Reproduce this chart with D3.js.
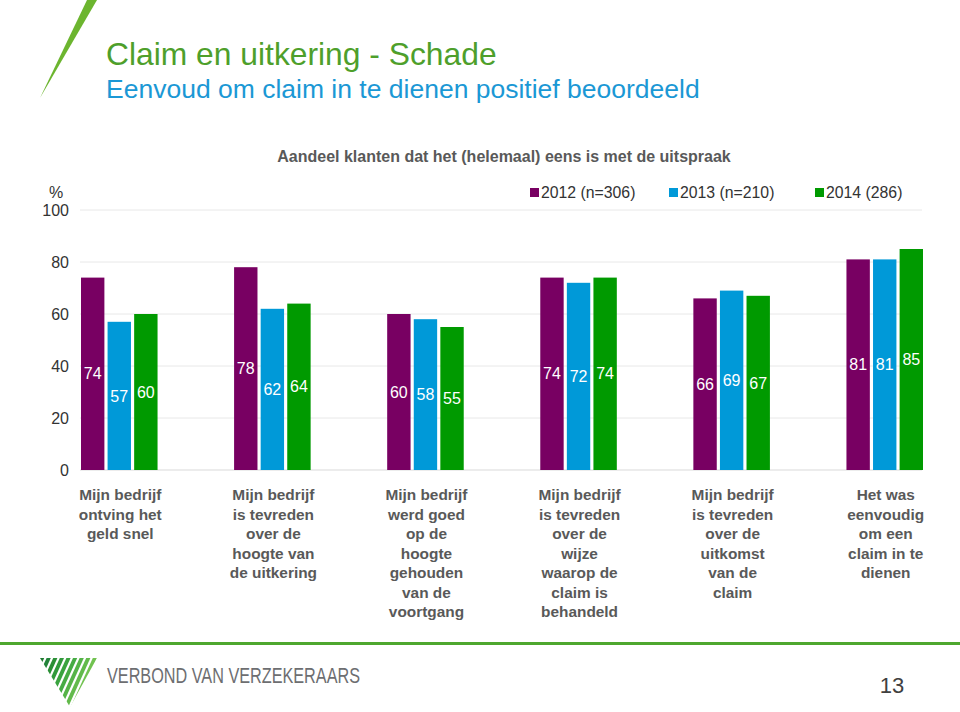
<!DOCTYPE html>
<html>
<head>
<meta charset="utf-8">
<script src="https://cdn.jsdelivr.net/npm/d3@7"></script>
<style>
  html, body { margin: 0; padding: 0; background: #fff; }
  svg { display: block; }
  text { font-family: "Liberation Sans", Arial, sans-serif; }
</style>
</head>
<body>
<svg id="chart" width="960" height="712"></svg>
<script>
// ---- data ----
const categories = [
  ["Mijn bedrijf", "ontving het", "geld snel"],
  ["Mijn bedrijf", "is tevreden", "over de", "hoogte van", "de uitkering"],
  ["Mijn bedrijf", "werd goed", "op de", "hoogte", "gehouden", "van de", "voortgang"],
  ["Mijn bedrijf", "is tevreden", "over de", "wijze", "waarop de", "claim is", "behandeld"],
  ["Mijn bedrijf", "is tevreden", "over de", "uitkomst", "van de", "claim"],
  ["Het was", "eenvoudig", "om een", "claim in te", "dienen"]
];
const seriesNames = ["2012 (n=306)", "2013 (n=210)", "2014 (286)"];
const values2012 = [74, 78, 60, 74, 66, 81];
const values2013 = [57, 62, 58, 72, 69, 81];
const values2014 = [60, 64, 55, 74, 67, 85];
const yTicks = [0, 20, 40, 60, 80, 100];
const colors = ["#780062", "#0099d8", "#009a00"];

const seriesValues = [values2012, values2013, values2014];
const svg = d3.select("#chart");

// ---- header decorations ----
svg.append("polygon")
  .attr("points", "40,98 87,0 97,0")
  .attr("fill", "#6cb52f");

svg.append("text").attr("x", 106).attr("y", 65)
  .attr("font-size", 31.8).attr("fill", "#4e9f2b")
  .text("Claim en uitkering - Schade");
svg.append("text").attr("x", 106).attr("y", 98)
  .attr("font-size", 26.5).attr("fill", "#1b98d5")
  .text("Eenvoud om claim in te dienen positief beoordeeld");

svg.append("text").attr("x", 504).attr("y", 162)
  .attr("text-anchor", "middle").attr("font-size", 16)
  .attr("font-weight", "bold").attr("fill", "#595959")
  .text("Aandeel klanten dat het (helemaal) eens is met de uitspraak");

// ---- scales ----
const x0 = d3.scaleBand().domain(d3.range(categories.length))
  .range([81, 923]).paddingInner(0.5).paddingOuter(0);
const x1 = d3.scaleBand().domain(d3.range(seriesNames.length))
  .range([0, x0.bandwidth()]).paddingInner(0.12).paddingOuter(0);
const y = d3.scaleLinear().domain([0, 100]).range([470, 210]);

// gridlines
svg.append("g").selectAll("line").data(yTicks).join("line")
  .attr("x1", 80).attr("x2", 922)
  .attr("y1", d => y(d)).attr("y2", d => y(d))
  .attr("stroke", d => d === 0 ? "#d9d9d9" : "#e8e8e8").attr("stroke-width", 1);

// y axis labels
const yAxis = d3.axisLeft(y).tickValues(yTicks).tickSize(0).tickPadding(0);
const gy = svg.append("g").attr("transform", "translate(69,0)").call(yAxis);
gy.select(".domain").remove();
gy.selectAll("text").attr("font-size", 16).attr("fill", "#333")
  .attr("font-family", "'Liberation Sans', Arial, sans-serif");
svg.append("text").attr("x", 56).attr("y", 198).attr("text-anchor", "middle")
  .attr("font-size", 16).attr("fill", "#333").text("%");

// legend
const legendX = [530, 669, 815];
const lg = svg.append("g").selectAll("g").data(seriesNames).join("g")
  .attr("transform", (d, i) => `translate(${legendX[i]},188)`);
lg.append("rect").attr("width", 9).attr("height", 9).attr("fill", (d, i) => colors[i]);
lg.append("text").attr("x", 11).attr("y", 10).attr("font-size", 15.8)
  .attr("fill", "#333").text(d => d);

// bars
const groups = svg.append("g").selectAll("g").data(categories).join("g")
  .attr("transform", (d, i) => `translate(${x0(i)},0)`);
groups.each(function (cat, ci) {
  const g = d3.select(this);
  seriesValues.forEach((vals, si) => {
    const v = vals[ci];
    g.append("rect")
      .attr("x", x1(si)).attr("width", x1.bandwidth())
      .attr("y", y(v)).attr("height", y(0) - y(v))
      .attr("fill", colors[si]);
    g.append("text")
      .attr("x", x1(si) + x1.bandwidth() / 2)
      .attr("y", y(v / 2)).attr("dy", "0.35em")
      .attr("text-anchor", "middle").attr("font-size", 16)
      .attr("fill", "#fff").text(v);
  });
  const t = g.append("text").attr("text-anchor", "middle")
    .attr("font-size", 15.4).attr("font-weight", "bold").attr("fill", "#595959");
  cat.forEach((line, li) => {
    t.append("tspan").attr("x", x0.bandwidth() / 2 + 1).attr("y", 500 + li * 19.5).text(line);
  });
});

// ---- footer ----
svg.append("rect").attr("x", 0).attr("y", 642).attr("width", 960).attr("height", 3)
  .attr("fill", "#4ea72e");

// logo triangle with stripes
const defs = svg.append("defs");
defs.append("clipPath").attr("id", "tri").append("polygon")
  .attr("points", "40,658 97,658 70,707");
const lgG = svg.append("g").attr("clip-path", "url(#tri)");
const stripeColors = ["#1e7a2f", "#23843a", "#2a8f35", "#31993b", "#3aa33f", "#46ab43", "#55b347", "#62ba4b", "#71c250"];
stripeColors.forEach((c, i) => {
  const x = 40 + i * 6.6;
  lgG.append("polygon")
    .attr("points", `${x},658 ${x + 4.2},658 ${x - 18},707 ${x - 22.2},707`)
    .attr("fill", c);
});

svg.append("text").attr("x", 107).attr("y", 683)
  .attr("font-size", 22).attr("fill", "#6d6e71")
  .attr("font-family", "'Liberation Sans Narrow', 'DejaVu Sans Condensed', sans-serif")
  .attr("textLength", 253).attr("lengthAdjust", "spacingAndGlyphs")
  .text("VERBOND VAN VERZEKERAARS");

svg.append("text").attr("x", 892).attr("y", 693).attr("text-anchor", "middle")
  .attr("font-size", 22).attr("fill", "#404040").text("13");
</script>
</body>
</html>
